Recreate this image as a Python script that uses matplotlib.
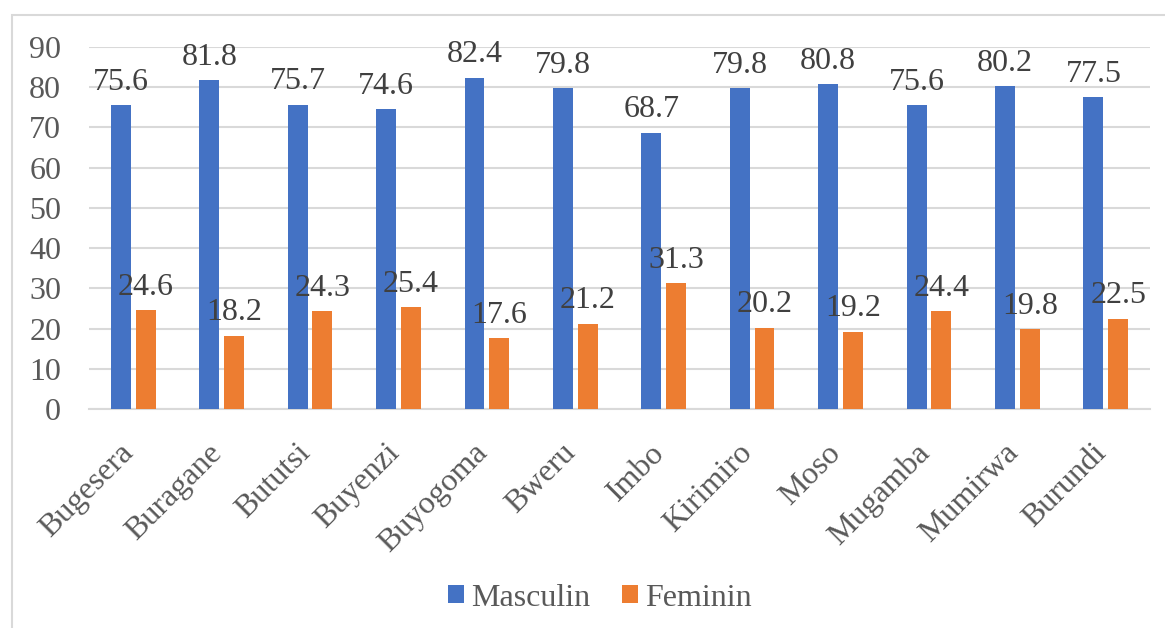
import numpy as np
import matplotlib.pyplot as plt
from matplotlib.patches import Rectangle
from matplotlib.transforms import ScaledTranslation

# Données par région
regions = ['Bugesera', 'Buragane', 'Bututsi', 'Buyenzi', 'Buyogoma', 'Bweru',
           'Imbo', 'Kirimiro', 'Moso', 'Mugamba', 'Mumirwa', 'Burundi']
masculin = [75.6, 81.8, 75.7, 74.6, 82.4, 79.8, 68.7, 79.8, 80.8, 75.6, 80.2, 77.5]
feminin = [24.6, 18.2, 24.3, 25.4, 17.6, 21.2, 31.3, 20.2, 19.2, 24.4, 19.8, 22.5]

plt.rcParams['font.family'] = ['Liberation Serif', 'DejaVu Serif']
gris = '#595959'
taille = 23

fig = plt.figure(figsize=(11.65, 6.28), dpi=100)
ax = fig.add_axes([89 / 1165, 1 - 409 / 628, (1150 - 89) / 1165, (409 - 47) / 628])

# Cadre autour du graphique
fig.patches.append(Rectangle((12 / 1165, -0.1), 1.2, 1 - 15 / 628 + 0.1,
                             transform=fig.transFigure, fill=False,
                             edgecolor='#d9d9d9', linewidth=1.5))

x = np.arange(len(regions))
largeur = 0.226
ecart = 0.28

b1 = ax.bar(x - ecart / 2, masculin, largeur, color='#4472C4', label='Masculin', zorder=3)
b2 = ax.bar(x + ecart / 2, feminin, largeur, color='#ED7D31', label='Feminin', zorder=3)

for barres in (b1, b2):
    ax.bar_label(barres, labels=[f'{v:.1f}' for v in barres.datavalues],
                 fontsize=taille, color='#404040', padding=6)

ax.set_xlim(-0.5, len(regions) - 0.5)
ax.set_ylim(0, 90)
ax.set_yticks(range(0, 91, 10))
ax.yaxis.grid(True, color='#d9d9d9', linewidth=1.5, zorder=0)
ax.tick_params(axis='y', length=0, labelsize=taille, labelcolor=gris, pad=20)
ax.tick_params(axis='x', length=0, labelsize=taille, labelcolor=gris, pad=14)

ax.set_xticks(x)
ax.set_xticklabels(regions, rotation=45, ha='right', rotation_mode='anchor')
decalage = ScaledTranslation(-0.14, -0.10, fig.dpi_scale_trans)
for lab in ax.get_xticklabels():
    lab.set_transform(lab.get_transform() + decalage)

for cote in ['top', 'right', 'left']:
    ax.spines[cote].set_visible(False)
ax.spines['bottom'].set_color('#d9d9d9')
ax.spines['bottom'].set_linewidth(1.5)

leg = fig.legend(handles=[b1, b2], loc='center', bbox_to_anchor=(600 / 1165, 1 - 598 / 628),
                 ncol=2, frameon=False, fontsize=taille, handlelength=0.5,
                 handleheight=0.5, handletextpad=0.22, columnspacing=1.0)
for t in leg.get_texts():
    t.set_color(gris)

fig.savefig('out.png', dpi=100)
